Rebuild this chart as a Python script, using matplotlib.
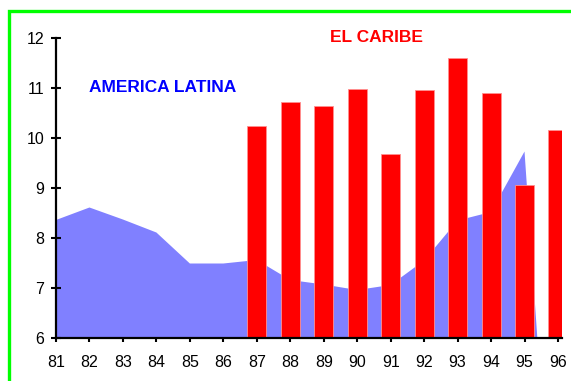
import matplotlib
matplotlib.use("Agg")
import matplotlib.pyplot as plt
from matplotlib.patches import Rectangle

plt.rcParams['font.family'] = ['Liberation Sans', 'DejaVu Sans']

years = [81, 82, 83, 84, 85, 86, 87, 88, 89, 90, 91, 92, 93, 94, 95, 96]
america_latina = [8.36, 8.61, 8.37, 8.11, 7.49, 7.49, 7.56, 7.16, 7.07, 6.96, 7.06,
                  7.55, 8.35, 8.52, 9.73, 0.0]
caribe_years = [87, 88, 89, 90, 91, 92, 93, 94, 95, 96]
el_caribe = [10.25, 10.73, 10.65, 10.99, 9.69, 10.97, 11.61, 10.91, 9.05, 10.17]
tick_labels = [str(y) for y in years]

fig = plt.figure(figsize=(5.71, 3.81), dpi=100)
ax = fig.add_axes([56 / 571, 43 / 381, 506 / 571, 300 / 381])

# Latin America as a filled area, clipped by the 6-12 axis range
ax.fill_between(years, 0, america_latina, color='#8080FF', linewidth=0, zorder=1)

# Caribbean as columns
ax.bar(caribe_years, el_caribe, width=0.57, color='#FF0000',
       edgecolor='#FF9090', linewidth=0.6, zorder=2)

ax.set_xlim(81, 96.12)
ax.set_ylim(6, 12)
ax.set_xticks(years)
ax.set_xticklabels(tick_labels)
ax.set_yticks(range(6, 13))

for side in ('top', 'right'):
    ax.spines[side].set_visible(False)
for side in ('left', 'bottom'):
    ax.spines[side].set_linewidth(1.6)
    ax.spines[side].set_color('black')
    ax.spines[side].set_zorder(3)

ax.tick_params(axis='y', direction='inout', length=7, width=1.5,
               pad=5, labelsize=11.5)
ax.tick_params(axis='x', direction='out', length=3, width=1.5,
               pad=9, labelsize=11.5)

ax.text(81.99, 11.02, 'AMERICA LATINA', color='#0000FF', fontsize=12.5,
        fontweight='bold', ha='left', va='center', clip_on=False)
ax.text(89.19, 12.0, 'EL CARIBE', color='#FF0000', fontsize=12.5,
        fontweight='bold', ha='left', va='center', clip_on=False)

# green frame around the chart
fig.patches.append(Rectangle((9 / 571, -0.1), 1.2, 1 - 11 / 381 + 0.1,
                             transform=fig.transFigure, fill=False,
                             edgecolor='#00FF00', linewidth=2.4))

fig.savefig('out.png', dpi=100, facecolor='white')
